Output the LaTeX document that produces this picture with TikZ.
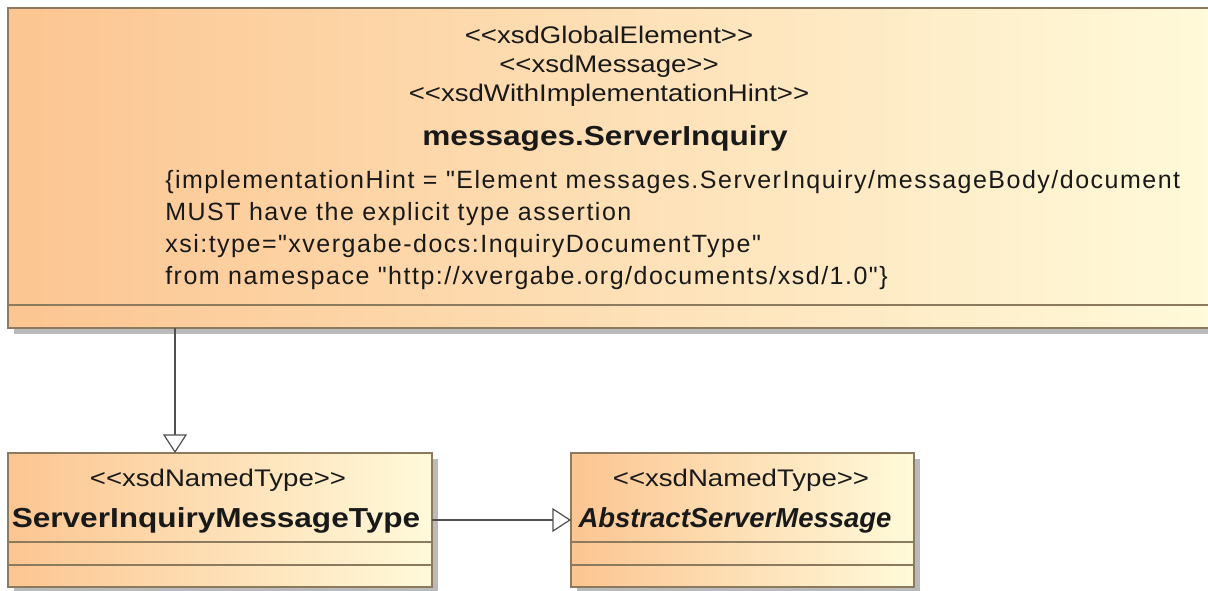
\documentclass[tikz,border=0pt]{standalone}
\usepackage{fontspec}
\setmainfont{Liberation Sans}
\newfontfamily\umlfont[FakeStretch=1.15]{Liberation Sans}
\newfontfamily\hintfont[LetterSpace=6]{Liberation Sans}
\usepackage{tikz}
\usetikzlibrary{arrows.meta, positioning, shadows}

\definecolor{umlorange}{RGB}{252,197,145}
\definecolor{umlcream}{RGB}{255,250,218}
\definecolor{umledge}{RGB}{140,122,95}
\definecolor{umlline}{RGB}{80,80,80}
\definecolor{umltext}{RGB}{25,25,25}

\begin{document}
\begin{tikzpicture}[
  x=0.75pt, y=-0.75pt,
  % UML class box (gradient fill, drop shadow)
  classbox/.style={rectangle, draw=umledge, line width=1.3pt, left color=umlorange, right color=umlcream,
    inner sep=0pt, outer sep=0pt, anchor=north west,
    drop shadow={shadow xshift=4.5pt, shadow yshift=-4.5pt, fill=black!45, opacity=0.6}},
  % Compartment separator
  sep/.style={draw=umledge, line width=1.3pt},
  % Generalization
  gen/.style={-{Triangle[fill=white, length=14pt, width=18pt, line width=0.9pt]}, line width=1.3pt, draw=umlline},
  % Texts
  stereo/.style={font=\umlfont\fontsize{18}{22}\selectfont, text=umltext, inner sep=0pt, anchor=base},
  cname/.style={font=\umlfont\bfseries\fontsize{20.6}{24}\selectfont, text=umltext, inner sep=0pt, anchor=base},
  hint/.style={font=\hintfont\fontsize{18.75}{22.5}\selectfont, text=umltext, inner sep=0pt, anchor=base west}
]

\fill[white] (0,0) rectangle (1208,590);
\useasboundingbox (0,0) rectangle (1208,590);

%% Class boxes
\node[classbox, minimum width=905.25pt, minimum height=240pt]   (inquiry)  at (8,8)     {};
\node[classbox, minimum width=318pt,    minimum height=100.5pt] (msgtype)  at (8,453)   {};
\node[classbox, minimum width=257.25pt, minimum height=100.5pt] (abstract) at (571,453) {};

%% Compartments
\draw[sep] (8,305) -- (1215,305);
\foreach \y in {542,565} {
  \draw[sep] (8,\y) -- (432,\y);
  \draw[sep] (571,\y) -- (914,\y);
}

%% messages.ServerInquiry
\node[stereo] (st1) at (609,43)  {<{}<xsdGlobalElement>{}>};
\node[stereo] (st2) at (609,72)  {<{}<xsdMessage>{}>};
\node[stereo] (st3) at (609,101) {<{}<xsdWithImplementationHint>{}>};
\node[cname]  (nm1) at (605,145) {messages.ServerInquiry};
\node[hint] (h1) at (165,188) {\{implementationHint = "Element messages.ServerInquiry/messageBody/document};
\node[hint] (h2) at (165,220) {MUST have the explicit type assertion};
\node[hint] (h3) at (165,252) {xsi:type="xvergabe-docs:InquiryDocumentType"};
\node[hint] (h4) at (165,284) {from namespace "http://xvergabe.org/documents/xsd/1.0"\}};

%% ServerInquiryMessageType
\node[stereo] (st4) at (218,486) {<{}<xsdNamedType>{}>};
\node[cname]  (nm2) at (216,527) {ServerInquiryMessageType};

%% AbstractServerMessage
\node[stereo] (st5) at (741,486) {<{}<xsdNamedType>{}>};
\node[cname, font=\bfseries\itshape\fontsize{20.6}{24}\selectfont] (nm3) at (735,527) {AbstractServerMessage};

%% Generalizations
\coordinate (genx) at (175,0);
\draw[gen] (inquiry.south -| genx) -- (msgtype.north -| genx);
\draw[gen] (msgtype.east) -- (abstract.west);

\end{tikzpicture}
\end{document}
